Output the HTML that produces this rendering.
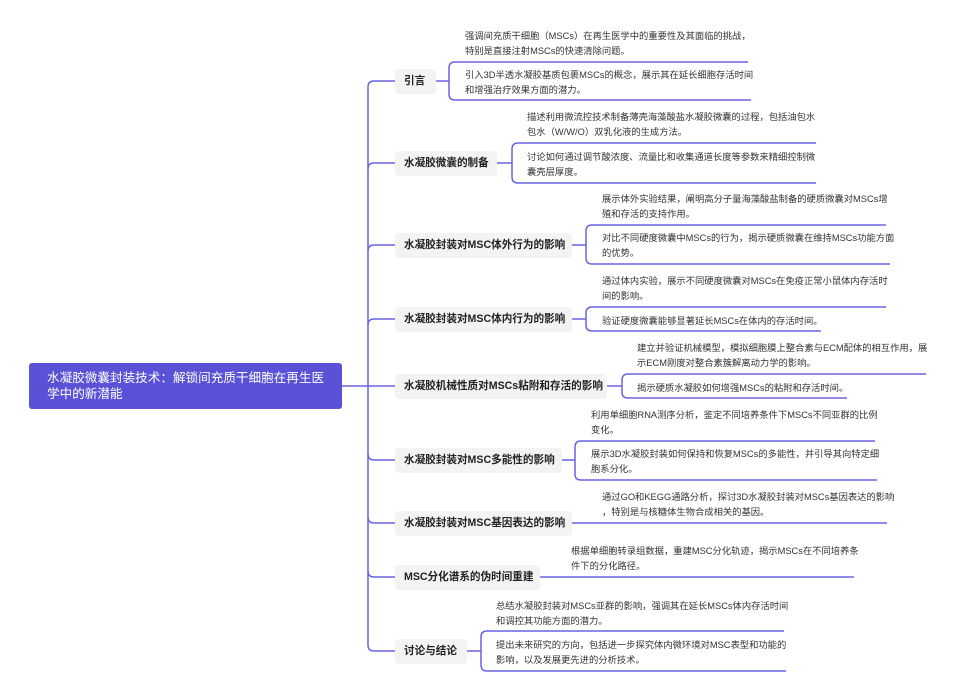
<!DOCTYPE html>
<html><head><meta charset="utf-8"><style>
body{margin:0;width:955px;height:700px;background:#fff;position:relative;overflow:hidden;font-family:"Liberation Sans","Noto Sans CJK SC",sans-serif}
svg{position:absolute;left:0;top:0}
.r{position:absolute;left:29px;top:363px;width:313px;height:46px;background:#5a52d6;border-radius:3px;color:#fff;font-size:12.6px;line-height:16px;box-sizing:border-box;padding:7px 0 0 18px}
.n{position:absolute;left:395px;height:25px;background:#f3f3f3;border-radius:4px;font-weight:bold;font-size:10.6px;color:#222;line-height:25px;box-sizing:border-box;padding-left:9px;white-space:nowrap}
.t{position:absolute;font-size:9.3px;line-height:15px;color:#333;white-space:nowrap}
</style></head><body>
<svg width="955" height="700" fill="none" stroke="#6a63e3" stroke-width="1.5">
<path d="M342,386 L395,386"/>
<path d="M368,87 L368,645"/>
<path d="M368,87 Q368,81 374,81 L395,81"/>
<path d="M368,169 Q368,163 374,163 L395,163"/>
<path d="M368,251 Q368,245 374,245 L395,245"/>
<path d="M368,325 Q368,319 374,319 L395,319"/>
<path d="M368,454 Q368,460 374,460 L395,460"/>
<path d="M368,517 Q368,523 374,523 L395,523"/>
<path d="M368,571 Q368,577 374,577 L395,577"/>
<path d="M368,645 Q368,651 374,651 L395,651"/>
<path d="M436,81 L449,81 M748,62 L455,62 Q449,62 449,68 L449,94 Q449,100 455,100 L751,100"/>
<path d="M497,163 L512,163 M816,143 L518,143 Q512,143 512,149 L512,177 Q512,183 518,183 L816,183"/>
<path d="M572,245 L586,245 M886,225 L592,225 Q586,225 586,231 L586,258 Q586,264 592,264 L890,264"/>
<path d="M572,319 L586,319 M886,307 L592,307 Q586,307 586,313 L586,325 Q586,331 592,331 L821,331"/>
<path d="M607,386 L622,386 M926,374 L628,374 Q622,374 622,380 L622,392 Q622,398 628,398 L847,398"/>
<path d="M562,460 L575,460 M875,441 L581,441 Q575,441 575,447 L575,474 Q575,480 581,480 L877,480"/>
<path d="M572,523 L887,523"/>
<path d="M540,577 L854,577"/>
<path d="M467,651 L481,651 M784,631 L487,631 Q481,631 481,637 L481,665 Q481,671 487,671 L786,671"/>
</svg>
<div class="r">水凝胶微囊封装技术：解锁间充质干细胞在再生医<br>学中的新潜能</div>
<div class="n" style="top:69px;width:41px">引言</div>
<div class="n" style="top:151px;width:102px">水凝胶微囊的制备</div>
<div class="n" style="top:233px;width:177px">水凝胶封装对MSC体外行为的影响</div>
<div class="n" style="top:307px;width:177px">水凝胶封装对MSC体内行为的影响</div>
<div class="n" style="top:374px;width:212px">水凝胶机械性质对MSCs粘附和存活的影响</div>
<div class="n" style="top:448px;width:167px">水凝胶封装对MSC多能性的影响</div>
<div class="n" style="top:511px;width:177px">水凝胶封装对MSC基因表达的影响</div>
<div class="n" style="top:565px;width:145px">MSC分化谱系的伪时间重建</div>
<div class="n" style="top:639px;width:72px">讨论与结论</div>

<div class="t" style="left:465px;top:29px">强调间充质干细胞（MSCs）在再生医学中的重要性及其面临的挑战，<br>特别是直接注射MSCs的快速清除问题。</div>
<div class="t" style="left:465px;top:68px">引入3D半透水凝胶基质包裹MSCs的概念，展示其在延长细胞存活时间<br>和增强治疗效果方面的潜力。</div>
<div class="t" style="left:527px;top:110px">描述利用微流控技术制备薄壳海藻酸盐水凝胶微囊的过程，包括油包水<br>包水（W/W/O）双乳化液的生成方法。</div>
<div class="t" style="left:527px;top:150px">讨论如何通过调节酸浓度、流量比和收集通道长度等参数来精细控制微<br>囊壳层厚度。</div>
<div class="t" style="left:602px;top:192px">展示体外实验结果，阐明高分子量海藻酸盐制备的硬质微囊对MSCs增<br>殖和存活的支持作用。</div>
<div class="t" style="left:602px;top:231px">对比不同硬度微囊中MSCs的行为，揭示硬质微囊在维持MSCs功能方面<br>的优势。</div>
<div class="t" style="left:602px;top:274px">通过体内实验，展示不同硬度微囊对MSCs在免疫正常小鼠体内存活时<br>间的影响。</div>
<div class="t" style="left:602px;top:314px">验证硬度微囊能够显著延长MSCs在体内的存活时间。</div>
<div class="t" style="left:637px;top:341px">建立并验证机械模型，模拟细胞膜上整合素与ECM配体的相互作用，展<br>示ECM刚度对整合素簇解离动力学的影响。</div>
<div class="t" style="left:637px;top:381px">揭示硬质水凝胶如何增强MSCs的粘附和存活时间。</div>
<div class="t" style="left:591px;top:408px">利用单细胞RNA测序分析，鉴定不同培养条件下MSCs不同亚群的比例<br>变化。</div>
<div class="t" style="left:591px;top:447px">展示3D水凝胶封装如何保持和恢复MSCs的多能性，并引导其向特定细<br>胞系分化。</div>
<div class="t" style="left:602px;top:490px">通过GO和KEGG通路分析，探讨3D水凝胶封装对MSCs基因表达的影响<br>，特别是与核糖体生物合成相关的基因。</div>
<div class="t" style="left:571px;top:544px">根据单细胞转录组数据，重建MSC分化轨迹，揭示MSCs在不同培养条<br>件下的分化路径。</div>
<div class="t" style="left:496px;top:599px">总结水凝胶封装对MSCs亚群的影响，强调其在延长MSCs体内存活时间<br>和调控其功能方面的潜力。</div>
<div class="t" style="left:496px;top:638px">提出未来研究的方向，包括进一步探究体内微环境对MSC表型和功能的<br>影响，以及发展更先进的分析技术。</div>
</body></html>
